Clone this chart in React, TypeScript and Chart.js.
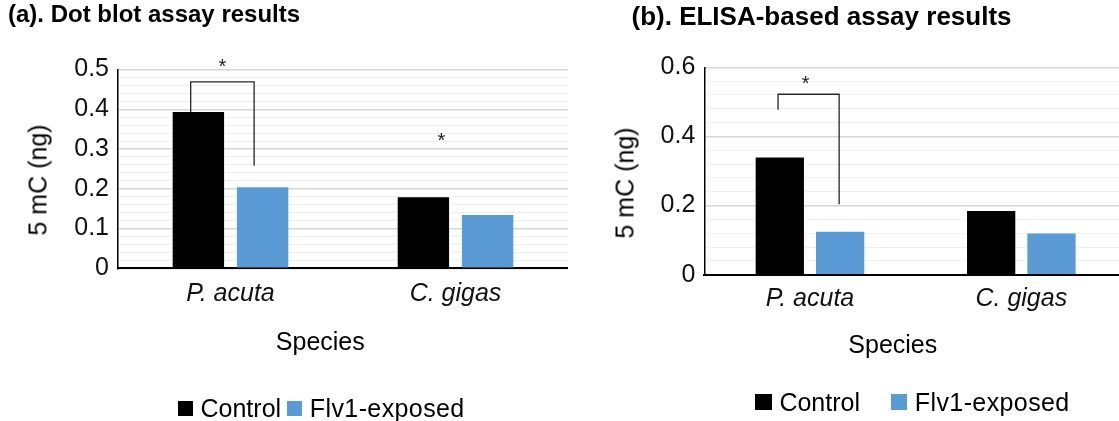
import React, { useEffect, useRef } from "react";
import { Chart, registerables } from "chart.js";

Chart.register(...registerables);

// ---------- data ----------
const categories = ["P. acuta", "C. gigas"];
const seriesNames = ["Control", "Flv1-exposed"];
const seriesColors = ["#000000", "#5B9BD5"];

const dotBlotControl = [0.393, 0.179];
const dotBlotExposed = [0.204, 0.134];
const dotBlotTicks = [0, 0.1, 0.2, 0.3, 0.4, 0.5];

const elisaControl = [0.339, 0.184];
const elisaExposed = [0.124, 0.119];
const elisaTicks = [0, 0.2, 0.4, 0.6];

// significance annotations (x in category units, y in data units)
const dotBlotBrackets = [{ from: -0.177, to: 0.105, top: 0.469, leftEnd: 0.393, rightEnd: 0.258 }];
const dotBlotStars = [
  { x: -0.036, y: 0.517 },
  { x: 0.937, y: 0.331 },
];
const elisaBrackets = [{ from: -0.151, to: 0.138, top: 0.522, leftEnd: 0.477, rightEnd: 0.204 }];
const elisaStars = [{ x: -0.02, y: 0.5635 }];

const FONT = '"Liberation Sans", Arial, Helvetica, sans-serif';

type PanelCfg = {
  left: number;
  width: number;
  yWidth: number;
  padTop: number;
  padBottom: number;
  xHeight: number;
  yMax: number;
  minorStep: number;
  majorTicks: number[];
  tickPad: number;
  catPad: number;
  control: number[];
  exposed: number[];
  brackets: typeof dotBlotBrackets;
  stars: typeof dotBlotStars;
};

const panelA: PanelCfg = {
  left: 0,
  width: 568,
  yWidth: 118,
  padTop: 69.5,
  padBottom: 72.7,
  xHeight: 80,
  yMax: 0.5,
  minorStep: 0.02,
  majorTicks: dotBlotTicks,
  tickPad: 9,
  catPad: 11.2,
  control: dotBlotControl,
  exposed: dotBlotExposed,
  brackets: dotBlotBrackets,
  stars: dotBlotStars,
};

const panelB: PanelCfg = {
  left: 580,
  width: 547,
  yWidth: 124.3,
  padTop: 67.3,
  padBottom: 66.3,
  xHeight: 80,
  yMax: 0.6,
  minorStep: 0.04,
  majorTicks: elisaTicks,
  tickPad: 9,
  catPad: 9.8,
  control: elisaControl,
  exposed: elisaExposed,
  brackets: elisaBrackets,
  stars: elisaStars,
};

function BarPanel({ cfg }: { cfg: PanelCfg }) {
  const ref = useRef<HTMLCanvasElement>(null);
  useEffect(() => {
    const isMajor = (v: number) => cfg.majorTicks.some((t) => Math.abs(t - v) < 1e-6);
    const sigPlugin = {
      id: "sigMarks",
      afterDatasetsDraw(chart: any) {
        const { ctx } = chart;
        const x = chart.scales.x;
        const y = chart.scales.y;
        ctx.save();
        ctx.strokeStyle = "#262626";
        ctx.lineWidth = 1.3;
        for (const b of cfg.brackets) {
          const x1 = x.getPixelForValue(b.from);
          const x2 = x.getPixelForValue(b.to);
          const yt = y.getPixelForValue(b.top);
          ctx.beginPath();
          ctx.moveTo(x1, y.getPixelForValue(b.leftEnd));
          ctx.lineTo(x1, yt);
          ctx.lineTo(x2, yt);
          ctx.lineTo(x2, y.getPixelForValue(b.rightEnd));
          ctx.stroke();
        }
        ctx.fillStyle = "#222222";
        ctx.font = `20px ${FONT}`;
        ctx.textAlign = "center";
        ctx.textBaseline = "alphabetic";
        for (const s of cfg.stars) {
          const m = ctx.measureText("*");
          const cy = y.getPixelForValue(s.y);
          const base = cy + (m.actualBoundingBoxAscent - m.actualBoundingBoxDescent) / 2;
          ctx.fillText("*", x.getPixelForValue(s.x), base);
        }
        ctx.restore();
      },
    };
    const chart = new Chart(ref.current as HTMLCanvasElement, {
      type: "bar",
      data: {
        labels: categories,
        datasets: [
          {
            label: seriesNames[0],
            data: cfg.control,
            backgroundColor: seriesColors[0],
            borderWidth: 0,
            categoryPercentage: 0.571,
            barPercentage: 0.8,
          },
          {
            label: seriesNames[1],
            data: cfg.exposed,
            backgroundColor: seriesColors[1],
            borderWidth: 0,
            categoryPercentage: 0.571,
            barPercentage: 0.8,
          },
        ],
      },
      options: {
        animation: false,
        responsive: false,
        devicePixelRatio: 1,
        layout: { padding: { left: 0, right: 0, top: cfg.padTop, bottom: cfg.padBottom } },
        plugins: {
          legend: { display: false },
          title: { display: false },
          tooltip: { enabled: false },
        },
        scales: {
          x: {
            type: "category",
            z: 1,
            grid: { display: false, drawTicks: false },
            border: { display: true, color: "#000000", width: 2 },
            ticks: {
              color: "#111111",
              font: { family: FONT, size: 25, style: "italic" },
              padding: cfg.catPad,
              maxRotation: 0,
              autoSkip: false,
            },
            afterFit: (s: any) => {
              s.height = cfg.xHeight;
            },
          },
          y: {
            type: "linear",
            min: 0,
            max: cfg.yMax,
            grid: {
              drawTicks: false,
              color: (c: any) => (c.tick && isMajor(c.tick.value) ? "#d6d6d6" : "#efefef"),
              lineWidth: (c: any) => (c.tick && isMajor(c.tick.value) ? 1.5 : 1),
            },
            border: { display: true, color: "#000000", width: 1.5 },
            ticks: {
              stepSize: cfg.minorStep,
              maxTicksLimit: 200,
              autoSkip: false,
              padding: cfg.tickPad,
              color: "#111111",
              font: { family: FONT, size: 25 },
              callback: (v: any) => {
                const n = Number(v);
                if (!isMajor(n)) return "";
                const t = cfg.majorTicks.find((m) => Math.abs(m - n) < 1e-6) as number;
                return String(t);
              },
            },
            afterFit: (s: any) => {
              s.width = cfg.yWidth;
            },
          },
        },
      },
      plugins: [sigPlugin],
    } as any);
    return () => chart.destroy();
  }, [cfg]);
  return (
    <canvas
      ref={ref}
      width={cfg.width}
      height={421}
      style={{ position: "absolute", left: cfg.left, top: 0, display: "block" }}
    />
  );
}

function Legend({ left, top, sq }: { left: number[]; top: number; sq: [number, number] }) {
  return (
    <>
      {seriesNames.map((name, i) => (
        <div
          key={name}
          style={{
            position: "absolute",
            left: left[i],
            top,
            height: 25,
            display: "flex",
            alignItems: "center",
            fontSize: 25,
            lineHeight: 1,
            whiteSpace: "nowrap",
          }}
        >
          <span
            style={{
              display: "inline-block",
              width: sq[0],
              height: sq[1],
              background: seriesColors[i],
              marginRight: 7.5,
            }}
          />
          <span style={{ letterSpacing: i === 1 ? 0.4 : 0 }}>{name}</span>
        </div>
      ))}
    </>
  );
}

export default function App() {
  const text: React.CSSProperties = { position: "absolute", lineHeight: 1, whiteSpace: "nowrap" };
  return (
    <div
      style={{
        position: "fixed",
        left: 0,
        top: 0,
        width: 1119,
        height: 421,
        overflow: "hidden",
        background: "#ffffff",
        fontFamily: FONT,
        color: "#000000",
      }}
    >
      <BarPanel cfg={panelA} />
      <BarPanel cfg={panelB} />

      <div style={{ ...text, left: 8, top: 2.4, fontSize: 24, fontWeight: "bold" }}>
        (a). Dot blot assay results
      </div>
      <div style={{ ...text, left: 631.5, top: 3.0, fontSize: 26, fontWeight: "bold" }}>
        (b). ELISA-based assay results
      </div>

      <div
        style={{
          ...text,
          left: 38.3,
          top: 180,
          fontSize: 25,
          transform: "translate(-50%,-50%) rotate(-90deg)",
        }}
      >
        5 mC (ng)
      </div>
      <div
        style={{
          ...text,
          left: 624.8,
          top: 182.5,
          fontSize: 25,
          transform: "translate(-50%,-50%) rotate(-90deg)",
        }}
      >
        5 mC (ng)
      </div>

      <div style={{ ...text, left: 320.3, top: 328.8, fontSize: 25, transform: "translateX(-50%)" }}>
        Species
      </div>
      <div style={{ ...text, left: 892.8, top: 332.3, fontSize: 25, transform: "translateX(-50%)" }}>
        Species
      </div>

      <Legend left={[177.5, 286.8]} top={396} sq={[15.5, 15]} />
      <Legend left={[755.4, 890.8]} top={389.7} sq={[16.5, 15.7]} />
    </div>
  );
}
